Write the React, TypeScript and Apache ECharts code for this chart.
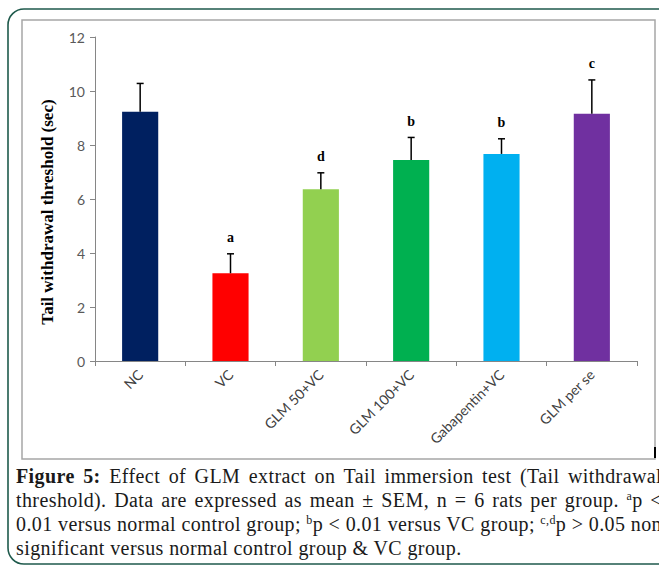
import React, { useEffect, useRef } from "react";
import * as echarts from "echarts";

const categories = ["NC", "VC", "GLM 50+VC", "GLM 100+VC", "Gabapentin+VC", "GLM per se"];
const means = [9.23, 3.25, 6.36, 7.44, 7.67, 9.16];
const sems = [1.05, 0.72, 0.61, 0.84, 0.56, 1.25];
const letters = ["", "a", "d", "b", "b", "c"];
const colors = ["#002060", "#ff0000", "#92d050", "#00b050", "#00b0f0", "#7030a0"];
const yTicks = { min: 0, max: 12, interval: 2 };
const yTitle = "Tail withdrawal threshold (sec)";

const serif = '"Liberation Serif", "Times New Roman", serif';
const sans = 'Lato, "Open Sans", sans-serif';

export default function App() {
  const ref = useRef<HTMLDivElement>(null);

  useEffect(() => {
    if (!ref.current) return;
    const chart = echarts.init(ref.current, undefined, { renderer: "svg" });
    const option: any = {
      animation: false,
      backgroundColor: "#ffffff",
      grid: { left: 95, right: 22, top: 37, bottom: 204, containLabel: false },
      xAxis: {
        type: "category",
        data: categories,
        axisLine: { show: true, lineStyle: { color: "#868686", width: 1 } },
        axisTick: { show: true, length: 5, lineStyle: { color: "#868686" } },
        axisLabel: {
          rotate: 45,
          fontFamily: sans,
          fontSize: 14,
          color: "#404040",
          margin: 11,
        },
      },
      yAxis: {
        type: "value",
        min: yTicks.min,
        max: yTicks.max,
        interval: yTicks.interval,
        axisLine: { show: true, lineStyle: { color: "#868686", width: 1 } },
        axisTick: { show: true, length: 5, lineStyle: { color: "#868686" } },
        splitLine: { show: false },
        axisLabel: { fontFamily: sans, fontSize: 14, color: "#595959", margin: 10 },
      },
      series: [
        {
          type: "bar",
          barWidth: "40%",
          data: means.map((v, i) => ({ value: v, itemStyle: { color: colors[i] } })),
        },
        {
          type: "custom",
          clip: false,
          z: 10,
          data: means.map((m, i) => [i, m, m + sems[i]]),
          renderItem: (params: any, api: any) => {
            const idx = api.value(0);
            const base = api.coord([idx, api.value(1)]);
            const top = api.coord([idx, api.value(2)]);
            const cap = 3.5;
            const children: any[] = [
              {
                type: "line",
                shape: { x1: base[0], y1: base[1], x2: top[0], y2: top[1] },
                style: { stroke: "#000", lineWidth: 1.5 },
              },
              {
                type: "line",
                shape: { x1: top[0] - cap, y1: top[1], x2: top[0] + cap, y2: top[1] },
                style: { stroke: "#000", lineWidth: 1.5 },
              },
            ];
            const letter = letters[params.dataIndex];
            if (letter) {
              children.push({
                type: "text",
                style: {
                  text: letter,
                  x: top[0],
                  y: top[1] - 9,
                  align: "center",
                  verticalAlign: "bottom",
                  fontFamily: serif,
                  fontWeight: "bold",
                  fontSize: 14,
                  fill: "#000",
                },
              });
            }
            return { type: "group", children };
          },
        },
      ],
      graphic: [
        {
          type: "rect",
          shape: { x: 8, y: 9, width: 720, height: 555, r: 16 },
          style: { fill: "none", stroke: "#1f5a4c", lineWidth: 1.6 },
          silent: true,
        },
        {
          type: "rect",
          shape: { x: 22, y: 20, width: 633, height: 439 },
          style: { fill: "none", stroke: "#a6a6a6", lineWidth: 1.5 },
          silent: true,
        },
        {
          type: "line",
          shape: { x1: 655, y1: 447, x2: 655, y2: 458 },
          style: { stroke: "#000", lineWidth: 2 },
          silent: true,
        },
        {
          type: "text",
          x: 47,
          y: 212,
          rotation: Math.PI / 2,
          style: {
            text: yTitle,
            align: "center",
            verticalAlign: "middle",
            fontFamily: serif,
            fontWeight: "bold",
            fontSize: 17,
            fill: "#000",
          },
        },
      ],
    };
    chart.setOption(option);
    return () => chart.dispose();
  }, []);

  const lineBase: React.CSSProperties = {
    position: "absolute",
    left: 16,
    fontFamily: serif,
    fontSize: 20,
    letterSpacing: "0.4px",
    lineHeight: "24px",
    color: "#1a1a1a",
    whiteSpace: "nowrap",
  };
  const justified: React.CSSProperties = {
    ...lineBase,
    width: 646,
    whiteSpace: "normal",
    textAlign: "justify",
    textAlignLast: "justify" as any,
  };
  const sup: React.CSSProperties = { fontSize: 12, verticalAlign: "7px", lineHeight: 0 };

  return (
    <div
      style={{
        position: "fixed",
        left: 0,
        top: 0,
        width: 659,
        height: 565,
        overflow: "hidden",
        background: "#fff",
      }}
    >
      <div ref={ref} style={{ position: "absolute", left: 0, top: 0, width: 659, height: 565 }} />
      <div style={{ ...justified, top: 464 }}>
        <b>Figure 5:</b> Effect of GLM extract on Tail immersion test (Tail withdrawal
      </div>
      <div style={{ ...justified, top: 488 }}>
        threshold). Data are expressed as mean ± SEM, n = 6 rats per group. <span style={sup}>a</span>p &lt;
      </div>
      <div style={{ ...justified, top: 512 }}>
        0.01 versus normal control group; <span style={sup}>b</span>p &lt; 0.01 versus VC group; <span style={sup}>c,d</span>p &gt; 0.05 non
      </div>
      <div style={{ ...lineBase, top: 536 }}>significant versus normal control group &amp; VC group.</div>
    </div>
  );
}
